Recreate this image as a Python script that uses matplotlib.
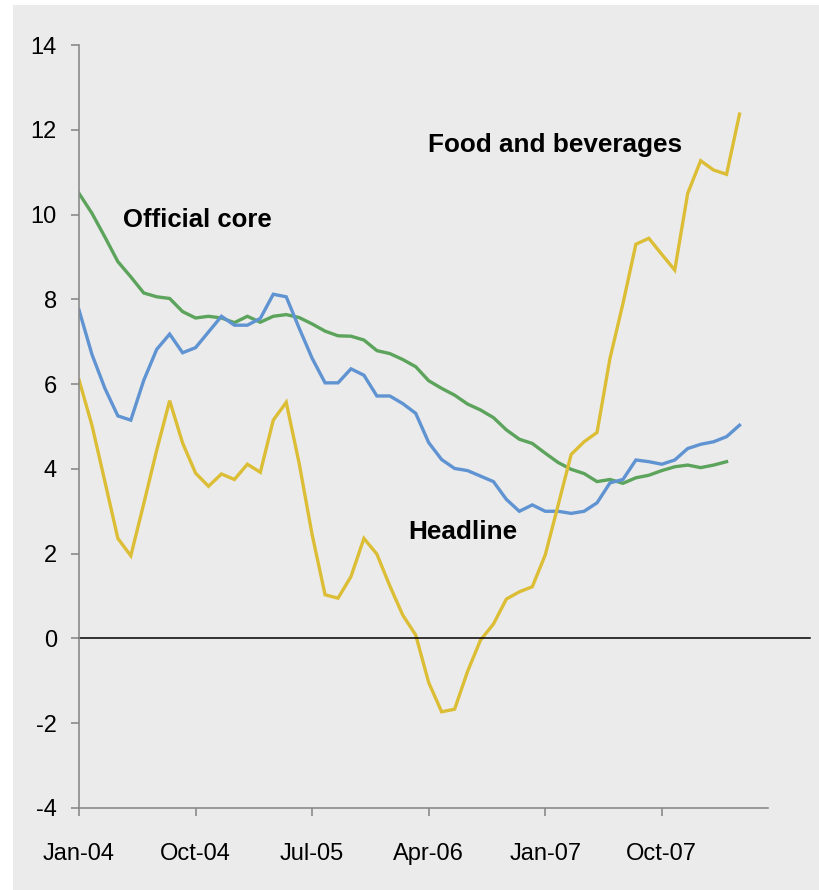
import numpy as np
import matplotlib
matplotlib.use('Agg')
import matplotlib.pyplot as plt
from matplotlib.lines import Line2D
from matplotlib.patches import Rectangle

plt.rcParams['axes.unicode_minus'] = False

# monthly data, Jan-04 .. Apr-08
tick_months = [0, 9, 18, 27, 36, 45]
tick_labels = ['Jan-04', 'Oct-04', 'Jul-05', 'Apr-06', 'Jan-07', 'Oct-07']

food = [6.1, 5.03, 3.7, 2.36, 1.95, 3.18, 4.44, 5.61, 4.61, 3.9,
        3.59, 3.88, 3.75, 4.11, 3.92, 5.15, 5.57, 4.13, 2.45, 1.03,
        0.95, 1.46, 2.36, 1.99, 1.24, 0.55, 0.08, -1.04, -1.73, -1.67,
        -0.78, -0.04, 0.34, 0.93, 1.1, 1.22, 1.97, 3.15, 4.34, 4.64,
        4.86, 6.61, 7.9, 9.3, 9.44, 9.06, 8.69, 10.5, 11.27, 11.05,
        10.95, 12.37]

headline = [7.75, 6.7, 5.9, 5.25, 5.15, 6.09, 6.82, 7.18, 6.74, 6.86,
            7.23, 7.6, 7.39, 7.39, 7.55, 8.12, 8.06, 7.32, 6.61, 6.03,
            6.03, 6.36, 6.21, 5.72, 5.72, 5.54, 5.31, 4.62, 4.22, 4.01,
            3.96, 3.83, 3.7, 3.28, 3.0, 3.15, 3.0, 3.0, 2.95, 3.0,
            3.2, 3.67, 3.75, 4.21, 4.17, 4.11, 4.21, 4.48, 4.58, 4.64,
            4.76, 5.03]

core = [10.5, 10.03, 9.47, 8.89, 8.53, 8.15, 8.06, 8.02, 7.71, 7.56,
        7.6, 7.56, 7.45, 7.6, 7.46, 7.6, 7.64, 7.57, 7.42, 7.25,
        7.14, 7.13, 7.04, 6.79, 6.72, 6.58, 6.41, 6.08, 5.9, 5.74,
        5.53, 5.39, 5.21, 4.92, 4.7, 4.6, 4.37, 4.15, 3.99, 3.89,
        3.7, 3.75, 3.66, 3.79, 3.85, 3.96, 4.05, 4.09, 4.03, 4.09,
        4.17]

bg = '#ebebeb'
axis_grey = '#8a8a8a'
tick_font = ['Liberation Sans Narrow', 'Liberation Sans', 'DejaVu Sans']
label_font = ['Liberation Sans', 'DejaVu Sans']

fig = plt.figure(figsize=(8.2, 8.9), dpi=100)
fig.patch.set_facecolor('white')
fig.patches.append(Rectangle((13 / 820, 0), 1 - 13 / 820, 1 - 5 / 890,
                             transform=fig.transFigure, facecolor=bg,
                             edgecolor='none', zorder=-10))

ax = fig.add_axes([79 / 820, 1 - 808 / 890, (768 - 79) / 820, (808 - 45) / 890])
ax.set_facecolor(bg)

ax.plot(np.arange(len(core)), core, color='#5ca35c', lw=2.4, solid_joinstyle='miter')
ax.plot(np.arange(len(headline)), headline, color='#5f93d2', lw=2.4, solid_joinstyle='miter')
ax.plot(np.arange(len(food)), food, color='#dcbe36', lw=2.4, solid_joinstyle='miter')

# zero line runs a bit past the end of the axis
ax.add_line(Line2D([0, 56.45], [0, 0], color='black', lw=1.1, clip_on=False))

ax.set_xlim(0, 53.2)
ax.set_ylim(-4, 14)
ax.set_yticks(np.arange(-4, 15, 2))
ax.set_xticks(tick_months)
ax.set_xticklabels(tick_labels)

for s in ['top', 'right']:
    ax.spines[s].set_visible(False)
for s in ['left', 'bottom']:
    ax.spines[s].set_color(axis_grey)
    ax.spines[s].set_linewidth(1.2)

ax.tick_params(axis='y', direction='out', length=6, width=1.2, color=axis_grey, pad=10)
ax.tick_params(axis='x', direction='out', length=6, width=1.2, color=axis_grey, pad=19)
for lab in ax.get_xticklabels() + ax.get_yticklabels():
    lab.set_family(tick_font)
    lab.set_fontsize(17)

ax.text(3.37, 9.87, 'Official core', fontsize=18.5, fontweight='bold',
        family=label_font, ha='left', va='center')
ax.text(26.95, 11.64, 'Food and beverages', fontsize=18.8, fontweight='bold',
        family=label_font, ha='left', va='center')
ax.text(25.4, 2.51, 'Headline', fontsize=18.8, fontweight='bold',
        family=label_font, ha='left', va='center')

plt.savefig('out.png', dpi=100, facecolor=fig.get_facecolor())
